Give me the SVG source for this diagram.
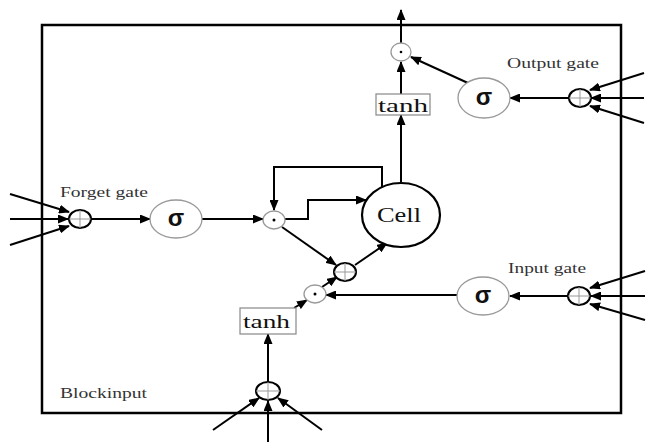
<svg xmlns="http://www.w3.org/2000/svg" width="653" height="442" viewBox="0 0 653 442">
<defs>
<marker id="ah" markerUnits="userSpaceOnUse" markerWidth="11" markerHeight="9" refX="10" refY="4.5" orient="auto">
<path d="M0,0 L11,4.5 L0,9 z" fill="#000"/>
</marker>
<style>
.bg{fill:#fff}
.box{fill:none;stroke:#000;stroke-width:2.5}
.c{fill:none;stroke:#000;stroke-width:2;marker-end:url(#ah)}
.p{fill:#fff;stroke:#000;stroke-width:2}
.x{stroke:#999;stroke-width:1;fill:none}
.sg{fill:#fff;stroke:#999;stroke-width:1.3}
.dt{fill:#fff;stroke:#999;stroke-width:1.3}
.tb{fill:#fff;stroke:#888;stroke-width:1.2}
.lbl{font-family:"Liberation Serif","Times New Roman",serif;font-size:14.5px;fill:#333}
.tn{font-family:"Liberation Serif","Times New Roman",serif;font-size:19px;fill:#111}
.cl{font-family:"Liberation Serif","Times New Roman",serif;font-size:22px;fill:#111}
.sy{font-family:"Liberation Sans",Arial,sans-serif;font-size:24px;font-weight:bold;fill:#111}
</style>
</defs>
<rect class="bg" x="0" y="0" width="653" height="442"/>
<rect id="block" class="box" x="42" y="25" width="579" height="388"/>

<g id="connectors">
<line class="c" x1="10" y1="194" x2="69" y2="212"/>
<line class="c" x1="10" y1="219" x2="68" y2="219"/>
<line class="c" x1="10" y1="245" x2="69" y2="226"/>
<line class="c" x1="91" y1="219" x2="150" y2="219"/>
<line class="c" x1="202" y1="219" x2="263" y2="219"/>
<polyline class="c" points="285,219 308,219 308,200 366,200"/>
<polyline class="c" points="382,187 382,167 274,167 274,210"/>
<line class="c" x1="282" y1="227" x2="336" y2="265"/>
<line class="c" x1="355" y1="265" x2="387" y2="243"/>
<line class="c" x1="401" y1="183" x2="401" y2="115"/>
<line class="c" x1="401" y1="94" x2="401" y2="62"/>
<line class="c" x1="401" y1="43" x2="401" y2="10"/>
<line class="c" x1="468" y1="83" x2="411" y2="57"/>
<line class="c" x1="569" y1="98" x2="510" y2="98"/>
<line class="c" x1="644" y1="73" x2="590" y2="90"/>
<line class="c" x1="644" y1="98" x2="591" y2="98"/>
<line class="c" x1="644" y1="123" x2="590" y2="106"/>
<line class="c" x1="645" y1="271" x2="590" y2="288"/>
<line class="c" x1="645" y1="296" x2="591" y2="296"/>
<line class="c" x1="645" y1="320" x2="590" y2="304"/>
<line class="c" x1="568" y1="296" x2="510" y2="296"/>
<line class="c" x1="457" y1="295" x2="326" y2="295"/>
<line class="c" x1="294" y1="308" x2="307" y2="300"/>
<line class="c" x1="322" y1="287" x2="337" y2="277"/>
<line class="c" x1="268" y1="382" x2="268" y2="334"/>
<line class="c" x1="213" y1="430" x2="259" y2="398"/>
<line class="c" x1="268" y1="442" x2="268" y2="401"/>
<line class="c" x1="322" y1="430" x2="278" y2="398"/>
</g>

<g id="forget-sum">
<ellipse class="p" cx="80" cy="219" rx="11" ry="9"/>
<path class="x" d="M69,219 H91 M80,210 V228"/>
</g>
<g id="forget-sigma">
<ellipse class="sg" cx="176" cy="219" rx="26" ry="19"/>
<text class="sy" x="176" y="226" text-anchor="middle">σ</text>
</g>
<text id="forget-label" class="lbl" x="60" y="197" textLength="88" lengthAdjust="spacingAndGlyphs">Forget gate</text>
<g id="forget-mul">
<ellipse class="dt" cx="274" cy="220" rx="11" ry="9"/>
<circle cx="274" cy="220" r="1.5" fill="#000"/>
</g>
<g id="cell">
<ellipse cx="401" cy="215" rx="39" ry="32" fill="#fff" stroke="#000" stroke-width="2.2"/>
<text class="cl" x="377" y="222" textLength="44" lengthAdjust="spacingAndGlyphs">Cell</text>
</g>
<g id="cell-sum">
<ellipse class="p" cx="345" cy="272" rx="11" ry="9"/>
<path class="x" d="M334,272 H356 M345,263 V281"/>
</g>
<g id="output-tanh">
<rect class="tb" x="376" y="94" width="54" height="21"/>
<text class="tn" x="378" y="112" textLength="50" lengthAdjust="spacingAndGlyphs">tanh</text>
</g>
<g id="output-mul">
<ellipse class="dt" cx="401" cy="52" rx="10" ry="9"/>
<circle cx="401" cy="52" r="1.3" fill="#000"/>
</g>
<g id="output-sigma">
<ellipse class="sg" cx="484" cy="98" rx="26" ry="20"/>
<text class="sy" x="484" y="105" text-anchor="middle">σ</text>
</g>
<g id="output-sum">
<ellipse class="p" cx="580" cy="98" rx="11" ry="9"/>
<path class="x" d="M569,98 H591 M580,89 V107"/>
</g>
<text id="output-label" class="lbl" x="507" y="68" textLength="92" lengthAdjust="spacingAndGlyphs">Output gate</text>
<g id="input-sigma">
<ellipse class="sg" cx="483" cy="296" rx="26" ry="19"/>
<text class="sy" x="483" y="303" text-anchor="middle">σ</text>
</g>
<g id="input-sum">
<ellipse class="p" cx="579" cy="296" rx="11" ry="9"/>
<path class="x" d="M568,296 H590 M579,287 V305"/>
</g>
<text id="input-label" class="lbl" x="508" y="273" textLength="78" lengthAdjust="spacingAndGlyphs">Input gate</text>
<g id="input-mul">
<ellipse class="dt" cx="315" cy="294" rx="11" ry="9"/>
<circle cx="315" cy="294" r="1.5" fill="#000"/>
</g>
<g id="input-tanh">
<rect class="tb" x="240" y="308" width="56" height="26"/>
<text class="tn" x="243" y="328" textLength="47" lengthAdjust="spacingAndGlyphs">tanh</text>
</g>
<g id="block-sum">
<ellipse class="p" cx="268" cy="391" rx="12" ry="9"/>
<path class="x" d="M256,391 H280 M268,382 V400"/>
</g>
<text id="block-label" class="lbl" x="60" y="398" textLength="87" lengthAdjust="spacingAndGlyphs">Blockinput</text>
</svg>
